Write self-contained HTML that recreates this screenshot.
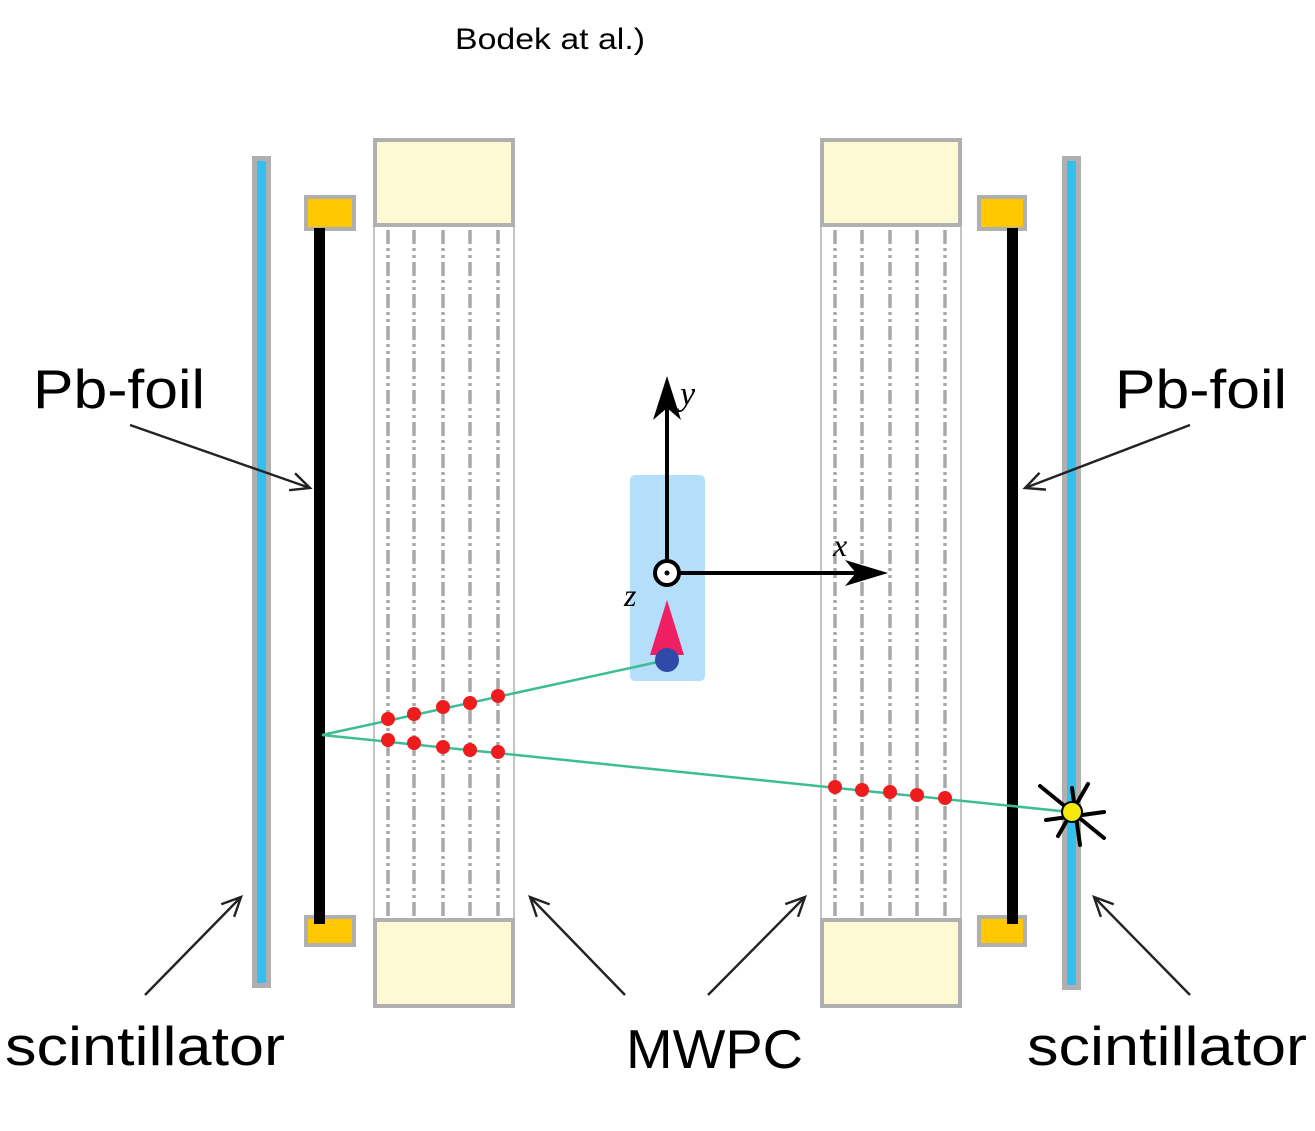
<!DOCTYPE html>
<html><head><style>body{margin:0;background:#fff}svg{display:block}</style></head><body>
<svg width="1315" height="1131" viewBox="0 0 1315 1131" xmlns="http://www.w3.org/2000/svg">
<defs>
<marker id="oa" markerWidth="24" markerHeight="24" refX="21" refY="12" orient="auto" markerUnits="userSpaceOnUse">
<path d="M2,3 L21,12 L2,21" fill="none" stroke="#222" stroke-width="2.4"/>
</marker>
</defs>
<text x="455" y="49" font-family="Liberation Sans, sans-serif" font-size="30" fill="#000" textLength="190" lengthAdjust="spacingAndGlyphs">Bodek at al.)</text>

<!-- scintillators -->
<rect x="252" y="156" width="19" height="832" fill="#b0b0b0"/>
<rect x="257" y="161" width="9" height="822" fill="#33c0f0"/>
<rect x="1062" y="156" width="19" height="834" fill="#b0b0b0"/>
<rect x="1067" y="161" width="9" height="824" fill="#33c0f0"/>

<!-- holders -->
<g fill="#ffc800" stroke="#b0b0b0" stroke-width="4">
<rect x="306" y="197" width="48" height="32"/>
<rect x="306" y="917" width="48" height="28"/>
<rect x="979" y="197" width="46" height="32"/>
<rect x="979" y="917" width="46" height="28"/>
</g>
<rect x="314" y="228" width="11" height="696" fill="#000"/>
<rect x="1007" y="228" width="11" height="696" fill="#000"/>

<!-- MWPCs -->
<g fill="none" stroke="#c4c4c4" stroke-width="2">
<rect x="374" y="225" width="140" height="695"/>
<rect x="821" y="225" width="140" height="695"/>
</g>
<g fill="#fdf9d3" stroke="#b0b0b0" stroke-width="4">
<rect x="375" y="140" width="138" height="85"/>
<rect x="375" y="920" width="138" height="86"/>
<rect x="822" y="140" width="138" height="85"/>
<rect x="822" y="920" width="138" height="86"/>
</g>
<g stroke="#a8a8a8" stroke-width="3.5" stroke-dasharray="14 4 3 4 3 4">
<line x1="388" y1="230" x2="388" y2="918"/>
<line x1="414" y1="230" x2="414" y2="918"/>
<line x1="443" y1="230" x2="443" y2="918"/>
<line x1="470" y1="230" x2="470" y2="918"/>
<line x1="498" y1="230" x2="498" y2="918"/>
<line x1="835" y1="230" x2="835" y2="918"/>
<line x1="862" y1="230" x2="862" y2="918"/>
<line x1="890" y1="230" x2="890" y2="918"/>
<line x1="917" y1="230" x2="917" y2="918"/>
<line x1="945" y1="230" x2="945" y2="918"/>
</g>

<!-- target -->
<rect x="630" y="475" width="75" height="206" rx="5" fill="#b4defa"/>
<line x1="667" y1="573" x2="667" y2="395" stroke="#000" stroke-width="4"/>
<path d="M667,376 L653,420 L667,408 L681,420 Z" fill="#000"/>
<line x1="667" y1="573" x2="868" y2="573" stroke="#000" stroke-width="4"/>
<path d="M888,573 L845,560 L856,573 L845,586 Z" fill="#000"/>
<text x="680" y="405" font-family="Liberation Serif, serif" font-style="italic" font-size="34">y</text>
<text x="833" y="556" font-family="Liberation Serif, serif" font-style="italic" font-size="32">x</text>
<text x="624" y="606" font-family="Liberation Serif, serif" font-style="italic" font-size="32">z</text>
<circle cx="667" cy="573" r="12" fill="#fff" stroke="#000" stroke-width="4"/>
<circle cx="667" cy="573" r="2.5" fill="#000"/>
<path d="M667,600 L650,655 L684,655 Z" fill="#ee1f63"/>

<!-- tracks -->
<polyline points="667,660 322,735 1070,812" fill="none" stroke="#3dbd93" stroke-width="2.5"/>
<circle cx="667" cy="660" r="12" fill="#2f4aa8"/>
<g fill="#ee1c1c">
<circle cx="388" cy="719" r="7"/><circle cx="414" cy="714" r="7"/><circle cx="443" cy="707" r="7"/><circle cx="470" cy="703" r="7"/><circle cx="498" cy="696" r="7"/>
<circle cx="388" cy="740" r="7"/><circle cx="414" cy="743" r="7"/><circle cx="443" cy="747" r="7"/><circle cx="470" cy="750" r="7"/><circle cx="498" cy="752" r="7"/>
<circle cx="835" cy="787" r="7"/><circle cx="862" cy="790" r="7"/><circle cx="890" cy="792" r="7"/><circle cx="917" cy="795" r="7"/><circle cx="945" cy="798" r="7"/>
</g>
<g stroke="#000" stroke-width="4" stroke-linecap="round">
<line x1="1040" y1="786" x2="1104" y2="838"/>
<line x1="1088" y1="784" x2="1058" y2="836"/>
<line x1="1046" y1="820" x2="1104" y2="812"/>
<line x1="1072" y1="788" x2="1080" y2="845"/>
</g>
<circle cx="1072" cy="812" r="10" fill="#f5ea10" stroke="#000" stroke-width="2"/>

<!-- callout arrows -->
<g stroke="#222" stroke-width="2.4" fill="none" marker-end="url(#oa)">
<line x1="130" y1="425" x2="310" y2="488"/>
<line x1="1190" y1="425" x2="1025" y2="488"/>
<line x1="145" y1="995" x2="241" y2="897"/>
<line x1="625" y1="995" x2="530" y2="897"/>
<line x1="708" y1="995" x2="805" y2="897"/>
<line x1="1190" y1="995" x2="1094" y2="897"/>
</g>

<g font-family="Liberation Sans, sans-serif" font-size="55" fill="#000" lengthAdjust="spacingAndGlyphs">
<text x="33" y="408" textLength="172" lengthAdjust="spacingAndGlyphs">Pb-foil</text>
<text x="1115" y="408" textLength="172" lengthAdjust="spacingAndGlyphs">Pb-foil</text>
<text x="5" y="1065" textLength="280" lengthAdjust="spacingAndGlyphs">scintillator</text>
<text x="626" y="1068" textLength="177" lengthAdjust="spacingAndGlyphs">MWPC</text>
<text x="1027" y="1065" textLength="280" lengthAdjust="spacingAndGlyphs">scintillator</text>
</g>
</svg>
</body></html>
